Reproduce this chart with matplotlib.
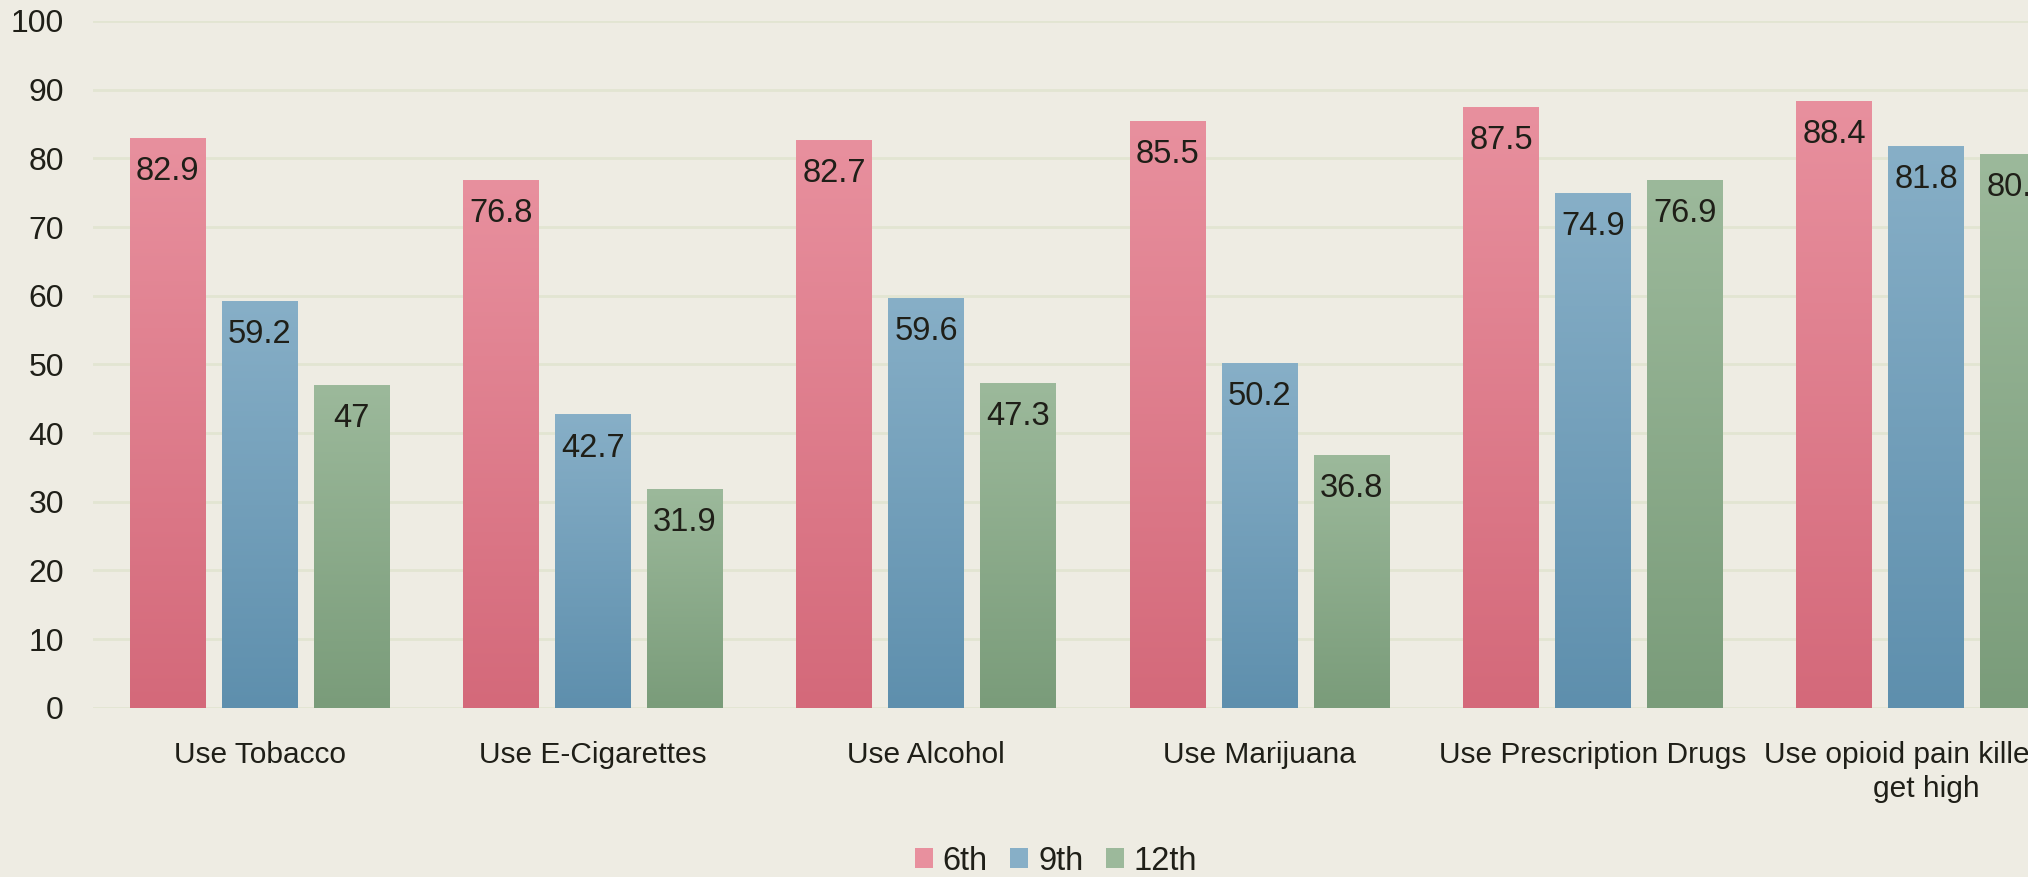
import numpy as np
import matplotlib.pyplot as plt
from matplotlib.colors import LinearSegmentedColormap

# 数据
categories = ["Use Tobacco", "Use E-Cigarettes", "Use Alcohol", "Use Marijuana",
              "Use Prescription Drugs", "Use opioid pain killers to\nget high"]
grades = ["6th", "9th", "12th"]
sixth = [82.9, 76.8, 82.7, 85.5, 87.5, 88.4]
ninth = [59.2, 42.7, 59.6, 50.2, 74.9, 81.8]
twelfth = [47, 31.9, 47.3, 36.8, 76.9, 80.6]

# 渐变色 (顶部, 底部)
grad_colors = [("#E8909E", "#D4697A"), ("#87AFC7", "#5E8FAD"), ("#9CB99B", "#7A9C7A")]
bg = "#EEECE3"
txt = "#1F1F18"
fam = ["Liberation Sans", "DejaVu Sans"]

fig = plt.figure(figsize=(20.28, 8.77), dpi=100, facecolor=bg)
ax = fig.add_axes([93 / 2028, 1 - 707.7 / 877, 2000 / 2028, (707.7 - 21) / 877])
ax.set_facecolor(bg)

x = np.arange(len(categories))
width = 0.228
step = 0.276
series = [sixth, ninth, twelfth]

for i, vals in enumerate(series):
    top, bottom = grad_colors[i]
    bars = ax.bar(x + (i - 1) * step, vals, width, color=bottom, label=grades[i], zorder=2)
    cmap = LinearSegmentedColormap.from_list("g%d" % i, [bottom, top])
    grad = np.linspace(0, 1, 256).reshape(-1, 1)
    for b in bars:
        x0, y0 = b.get_x(), b.get_y()
        im = ax.imshow(grad, cmap=cmap, aspect="auto", origin="lower",
                       extent=[x0, x0 + b.get_width(), y0, y0 + b.get_height()],
                       zorder=2.5, vmin=0, vmax=1)
        im.set_clip_path(b)
        # 数值标签
        ax.annotate("%g" % b.get_height(), (x0 + b.get_width() / 2, y0 + b.get_height()),
                    xytext=(0, -13), textcoords="offset points", ha="center", va="top",
                    fontsize=23.5, color=txt, family=fam, zorder=3)

ax.set_xlim(-0.5, len(categories) - 0.5)
ax.set_ylim(0, 100)
ax.set_yticks(range(0, 101, 10))
ax.yaxis.grid(True, color="#E2E5D2", linewidth=2, zorder=0)
ax.set_axisbelow(True)
for s in ax.spines.values():
    s.set_visible(False)
ax.set_xticks(x)
ax.set_xticklabels(categories, fontsize=21.5, color=txt, family=fam, linespacing=1.25)
ax.tick_params(axis="x", length=0, pad=24)
ax.tick_params(axis="y", length=0, pad=21, labelsize=23, labelcolor=txt)
for lab in ax.get_yticklabels():
    lab.set_family(fam)

leg = fig.legend(loc="center", bbox_to_anchor=(1056 / 2028, 1 - 861 / 877), ncol=3,
                 frameon=False, fontsize=23.5, handlelength=0.55, handleheight=0.55,
                 handletextpad=0.3, columnspacing=0.7)
for t in leg.get_texts():
    t.set_color(txt)
    t.set_family(fam)
for h, (top, bottom) in zip(leg.legend_handles, grad_colors):
    h.set_facecolor(top)

fig.savefig("out.png", dpi=100, facecolor=bg)
